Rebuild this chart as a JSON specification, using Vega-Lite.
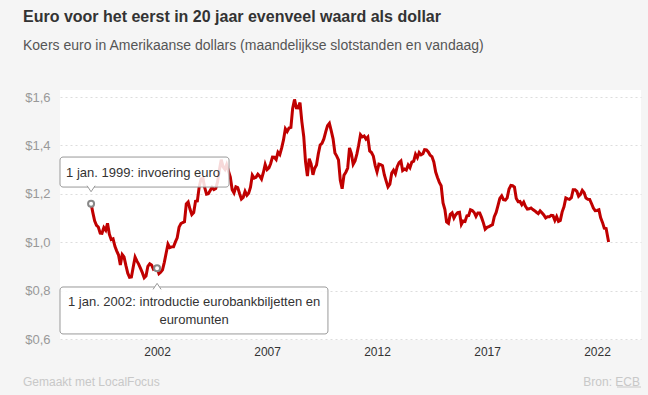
{
  "$schema": "https://vega.github.io/schema/vega-lite/v6.json",
  "width": 581,
  "height": 250,
  "autosize": {"type": "none"},
  "padding": {"left": 60, "top": 90, "right": 7, "bottom": 55},
  "background": "#f5f5f5",
  "config": {"font": "Liberation Sans", "view": {"fill": "white", "stroke": null}},
  "title": {
    "text": "Euro voor het eerst in 20 jaar evenveel waard als dollar",
    "subtitle": "Koers euro in Amerikaanse dollars (maandelijkse slotstanden en vandaag)",
    "anchor": "start",
    "frame": "group",
    "dx": -37,
    "offset": 37,
    "font": "Liberation Sans",
    "fontSize": 16,
    "fontWeight": "bold",
    "color": "#333",
    "subtitleFont": "Liberation Sans",
    "subtitleFontSize": 14,
    "subtitleColor": "#555",
    "subtitlePadding": 14.5
  },
  "datasets": {
    "koers": [
      {"date": "1999-01", "usd": 1.1591}, {"date": "1999-02", "usd": 1.1203}, {"date": "1999-03", "usd": 1.0886}, {"date": "1999-04", "usd": 1.0701}, {"date": "1999-05", "usd": 1.0630}, {"date": "1999-06", "usd": 1.0377}, {"date": "1999-07", "usd": 1.0369}, {"date": "1999-08", "usd": 1.0605}, {"date": "1999-09", "usd": 1.0497}, {"date": "1999-10", "usd": 1.0780}, {"date": "1999-11", "usd": 1.0327}, {"date": "1999-12", "usd": 1.0109},
      {"date": "2000-01", "usd": 1.0141}, {"date": "2000-02", "usd": 0.9834}, {"date": "2000-03", "usd": 0.9643}, {"date": "2000-04", "usd": 0.9470}, {"date": "2000-05", "usd": 0.9059}, {"date": "2000-06", "usd": 0.9492}, {"date": "2000-07", "usd": 0.9397}, {"date": "2000-08", "usd": 0.9041}, {"date": "2000-09", "usd": 0.8721}, {"date": "2000-10", "usd": 0.8552}, {"date": "2000-11", "usd": 0.8564}, {"date": "2000-12", "usd": 0.8973},
      {"date": "2001-01", "usd": 0.9383}, {"date": "2001-02", "usd": 0.9217}, {"date": "2001-03", "usd": 0.9095}, {"date": "2001-04", "usd": 0.8920}, {"date": "2001-05", "usd": 0.8742}, {"date": "2001-06", "usd": 0.8532}, {"date": "2001-07", "usd": 0.8607}, {"date": "2001-08", "usd": 0.9005}, {"date": "2001-09", "usd": 0.9111}, {"date": "2001-10", "usd": 0.9059}, {"date": "2001-11", "usd": 0.8883}, {"date": "2001-12", "usd": 0.8924},
      {"date": "2002-01", "usd": 0.8920}, {"date": "2002-02", "usd": 0.8700}, {"date": "2002-03", "usd": 0.8758}, {"date": "2002-04", "usd": 0.8858}, {"date": "2002-05", "usd": 0.9170}, {"date": "2002-06", "usd": 0.9554}, {"date": "2002-07", "usd": 0.9922}, {"date": "2002-08", "usd": 0.9778}, {"date": "2002-09", "usd": 0.9808}, {"date": "2002-10", "usd": 0.9811}, {"date": "2002-11", "usd": 1.0014}, {"date": "2002-12", "usd": 1.0183},
      {"date": "2003-01", "usd": 1.0622}, {"date": "2003-02", "usd": 1.0773}, {"date": "2003-03", "usd": 1.0807}, {"date": "2003-04", "usd": 1.0848}, {"date": "2003-05", "usd": 1.1582}, {"date": "2003-06", "usd": 1.1663}, {"date": "2003-07", "usd": 1.1372}, {"date": "2003-08", "usd": 1.1139}, {"date": "2003-09", "usd": 1.1222}, {"date": "2003-10", "usd": 1.1692}, {"date": "2003-11", "usd": 1.1702}, {"date": "2003-12", "usd": 1.2286},
      {"date": "2004-01", "usd": 1.2613}, {"date": "2004-02", "usd": 1.2646}, {"date": "2004-03", "usd": 1.2262}, {"date": "2004-04", "usd": 1.1985}, {"date": "2004-05", "usd": 1.2007}, {"date": "2004-06", "usd": 1.2138}, {"date": "2004-07", "usd": 1.2266}, {"date": "2004-08", "usd": 1.2176}, {"date": "2004-09", "usd": 1.2218}, {"date": "2004-10", "usd": 1.2490}, {"date": "2004-11", "usd": 1.2991}, {"date": "2004-12", "usd": 1.3408},
      {"date": "2005-01", "usd": 1.3119}, {"date": "2005-02", "usd": 1.3014}, {"date": "2005-03", "usd": 1.3201}, {"date": "2005-04", "usd": 1.2938}, {"date": "2005-05", "usd": 1.2694}, {"date": "2005-06", "usd": 1.2165}, {"date": "2005-07", "usd": 1.2037}, {"date": "2005-08", "usd": 1.2292}, {"date": "2005-09", "usd": 1.2256}, {"date": "2005-10", "usd": 1.2015}, {"date": "2005-11", "usd": 1.1786}, {"date": "2005-12", "usd": 1.1856},
      {"date": "2006-01", "usd": 1.2103}, {"date": "2006-02", "usd": 1.1938}, {"date": "2006-03", "usd": 1.2020}, {"date": "2006-04", "usd": 1.2271}, {"date": "2006-05", "usd": 1.2770}, {"date": "2006-06", "usd": 1.2650}, {"date": "2006-07", "usd": 1.2684}, {"date": "2006-08", "usd": 1.2811}, {"date": "2006-09", "usd": 1.2727}, {"date": "2006-10", "usd": 1.2611}, {"date": "2006-11", "usd": 1.2881}, {"date": "2006-12", "usd": 1.3213},
      {"date": "2007-01", "usd": 1.2999}, {"date": "2007-02", "usd": 1.3074}, {"date": "2007-03", "usd": 1.3242}, {"date": "2007-04", "usd": 1.3516}, {"date": "2007-05", "usd": 1.3511}, {"date": "2007-06", "usd": 1.3419}, {"date": "2007-07", "usd": 1.3716}, {"date": "2007-08", "usd": 1.3622}, {"date": "2007-09", "usd": 1.3896}, {"date": "2007-10", "usd": 1.4227}, {"date": "2007-11", "usd": 1.4684}, {"date": "2007-12", "usd": 1.4570},
      {"date": "2008-01", "usd": 1.4718}, {"date": "2008-02", "usd": 1.4748}, {"date": "2008-03", "usd": 1.5527}, {"date": "2008-04", "usd": 1.5900}, {"date": "2008-05", "usd": 1.5557}, {"date": "2008-06", "usd": 1.5553}, {"date": "2008-07", "usd": 1.5770}, {"date": "2008-08", "usd": 1.4975}, {"date": "2008-09", "usd": 1.4370}, {"date": "2008-10", "usd": 1.3322}, {"date": "2008-11", "usd": 1.2732}, {"date": "2008-12", "usd": 1.3449},
      {"date": "2009-01", "usd": 1.3239}, {"date": "2009-02", "usd": 1.2785}, {"date": "2009-03", "usd": 1.3050}, {"date": "2009-04", "usd": 1.3190}, {"date": "2009-05", "usd": 1.3650}, {"date": "2009-06", "usd": 1.4016}, {"date": "2009-07", "usd": 1.4088}, {"date": "2009-08", "usd": 1.4268}, {"date": "2009-09", "usd": 1.4562}, {"date": "2009-10", "usd": 1.4816}, {"date": "2009-11", "usd": 1.4914}, {"date": "2009-12", "usd": 1.4614},
      {"date": "2010-01", "usd": 1.4272}, {"date": "2010-02", "usd": 1.3686}, {"date": "2010-03", "usd": 1.3569}, {"date": "2010-04", "usd": 1.3406}, {"date": "2010-05", "usd": 1.2565}, {"date": "2010-06", "usd": 1.2209}, {"date": "2010-07", "usd": 1.2770}, {"date": "2010-08", "usd": 1.2894}, {"date": "2010-09", "usd": 1.3067}, {"date": "2010-10", "usd": 1.3898}, {"date": "2010-11", "usd": 1.3661}, {"date": "2010-12", "usd": 1.3220},
      {"date": "2011-01", "usd": 1.3360}, {"date": "2011-02", "usd": 1.3649}, {"date": "2011-03", "usd": 1.3999}, {"date": "2011-04", "usd": 1.4442}, {"date": "2011-05", "usd": 1.4349}, {"date": "2011-06", "usd": 1.4388}, {"date": "2011-07", "usd": 1.4264}, {"date": "2011-08", "usd": 1.4343}, {"date": "2011-09", "usd": 1.3770}, {"date": "2011-10", "usd": 1.3706}, {"date": "2011-11", "usd": 1.3556}, {"date": "2011-12", "usd": 1.3179},
      {"date": "2012-01", "usd": 1.2905}, {"date": "2012-02", "usd": 1.3224}, {"date": "2012-03", "usd": 1.3201}, {"date": "2012-04", "usd": 1.3162}, {"date": "2012-05", "usd": 1.2789}, {"date": "2012-06", "usd": 1.2526}, {"date": "2012-07", "usd": 1.2288}, {"date": "2012-08", "usd": 1.2400}, {"date": "2012-09", "usd": 1.2856}, {"date": "2012-10", "usd": 1.2974}, {"date": "2012-11", "usd": 1.2828}, {"date": "2012-12", "usd": 1.3119},
      {"date": "2013-01", "usd": 1.3288}, {"date": "2013-02", "usd": 1.3359}, {"date": "2013-03", "usd": 1.2964}, {"date": "2013-04", "usd": 1.3026}, {"date": "2013-05", "usd": 1.2982}, {"date": "2013-06", "usd": 1.3189}, {"date": "2013-07", "usd": 1.3080}, {"date": "2013-08", "usd": 1.3310}, {"date": "2013-09", "usd": 1.3348}, {"date": "2013-10", "usd": 1.3635}, {"date": "2013-11", "usd": 1.3493}, {"date": "2013-12", "usd": 1.3704},
      {"date": "2014-01", "usd": 1.3610}, {"date": "2014-02", "usd": 1.3659}, {"date": "2014-03", "usd": 1.3823}, {"date": "2014-04", "usd": 1.3813}, {"date": "2014-05", "usd": 1.3732}, {"date": "2014-06", "usd": 1.3592}, {"date": "2014-07", "usd": 1.3539}, {"date": "2014-08", "usd": 1.3316}, {"date": "2014-09", "usd": 1.2901}, {"date": "2014-10", "usd": 1.2673}, {"date": "2014-11", "usd": 1.2472}, {"date": "2014-12", "usd": 1.2331},
      {"date": "2015-01", "usd": 1.1621}, {"date": "2015-02", "usd": 1.1350}, {"date": "2015-03", "usd": 1.0838}, {"date": "2015-04", "usd": 1.0779}, {"date": "2015-05", "usd": 1.1150}, {"date": "2015-06", "usd": 1.1213}, {"date": "2015-07", "usd": 1.0996}, {"date": "2015-08", "usd": 1.1139}, {"date": "2015-09", "usd": 1.1221}, {"date": "2015-10", "usd": 1.1235}, {"date": "2015-11", "usd": 1.0736}, {"date": "2015-12", "usd": 1.0877},
      {"date": "2016-01", "usd": 1.0860}, {"date": "2016-02", "usd": 1.1093}, {"date": "2016-03", "usd": 1.1100}, {"date": "2016-04", "usd": 1.1339}, {"date": "2016-05", "usd": 1.1311}, {"date": "2016-06", "usd": 1.1229}, {"date": "2016-07", "usd": 1.1069}, {"date": "2016-08", "usd": 1.1212}, {"date": "2016-09", "usd": 1.1212}, {"date": "2016-10", "usd": 1.1026}, {"date": "2016-11", "usd": 1.0799}, {"date": "2016-12", "usd": 1.0541},
      {"date": "2017-01", "usd": 1.0614}, {"date": "2017-02", "usd": 1.0643}, {"date": "2017-03", "usd": 1.0685}, {"date": "2017-04", "usd": 1.0723}, {"date": "2017-05", "usd": 1.1058}, {"date": "2017-06", "usd": 1.1229}, {"date": "2017-07", "usd": 1.1511}, {"date": "2017-08", "usd": 1.1807}, {"date": "2017-09", "usd": 1.1915}, {"date": "2017-10", "usd": 1.1756}, {"date": "2017-11", "usd": 1.1738}, {"date": "2017-12", "usd": 1.1836},
      {"date": "2018-01", "usd": 1.2200}, {"date": "2018-02", "usd": 1.2348}, {"date": "2018-03", "usd": 1.2336}, {"date": "2018-04", "usd": 1.2276}, {"date": "2018-05", "usd": 1.1812}, {"date": "2018-06", "usd": 1.1678}, {"date": "2018-07", "usd": 1.1686}, {"date": "2018-08", "usd": 1.1549}, {"date": "2018-09", "usd": 1.1659}, {"date": "2018-10", "usd": 1.1484}, {"date": "2018-11", "usd": 1.1367}, {"date": "2018-12", "usd": 1.1380},
      {"date": "2019-01", "usd": 1.1416}, {"date": "2019-02", "usd": 1.1351}, {"date": "2019-03", "usd": 1.1302}, {"date": "2019-04", "usd": 1.1238}, {"date": "2019-05", "usd": 1.1185}, {"date": "2019-06", "usd": 1.1293}, {"date": "2019-07", "usd": 1.1218}, {"date": "2019-08", "usd": 1.1126}, {"date": "2019-09", "usd": 1.1004}, {"date": "2019-10", "usd": 1.1053}, {"date": "2019-11", "usd": 1.1051}, {"date": "2019-12", "usd": 1.1113},
      {"date": "2020-01", "usd": 1.1100}, {"date": "2020-02", "usd": 1.0905}, {"date": "2020-03", "usd": 1.1063}, {"date": "2020-04", "usd": 1.0862}, {"date": "2020-05", "usd": 1.0902}, {"date": "2020-06", "usd": 1.1255}, {"date": "2020-07", "usd": 1.1463}, {"date": "2020-08", "usd": 1.1828}, {"date": "2020-09", "usd": 1.1792}, {"date": "2020-10", "usd": 1.1775}, {"date": "2020-11", "usd": 1.1838}, {"date": "2020-12", "usd": 1.2170},
      {"date": "2021-01", "usd": 1.2171}, {"date": "2021-02", "usd": 1.2098}, {"date": "2021-03", "usd": 1.1899}, {"date": "2021-04", "usd": 1.1979}, {"date": "2021-05", "usd": 1.2146}, {"date": "2021-06", "usd": 1.2047}, {"date": "2021-07", "usd": 1.1822}, {"date": "2021-08", "usd": 1.1772}, {"date": "2021-09", "usd": 1.1770}, {"date": "2021-10", "usd": 1.1601}, {"date": "2021-11", "usd": 1.1414}, {"date": "2021-12", "usd": 1.1304},
      {"date": "2022-01", "usd": 1.1314}, {"date": "2022-02", "usd": 1.1342}, {"date": "2022-03", "usd": 1.1017}, {"date": "2022-04", "usd": 1.0819}, {"date": "2022-05", "usd": 1.0577}, {"date": "2022-06", "usd": 1.0566}, {"date": "2022-07-12", "usd": 1.0005}
    ],
    "invoering": [
      {"date": "1999-01", "usd": 1.1591, "label": "1 jan. 1999: invoering euro"}
    ],
    "biljetten": [
      {"date": "2002-01", "usd": 0.8920, "label": "1 jan. 2002: introductie eurobankbiljetten en\neuromunten"}
    ],
    "footer": [
      {"left": "Gemaakt met LocalFocus", "right": "Bron: ECB"}
    ]
  },
  "layer": [
    {
      "data": {"name": "koers"},
      "mark": {"type": "line", "color": "#c00000", "strokeWidth": 3},
      "encoding": {
        "x": {
          "field": "date",
          "type": "temporal",
          "scale": {"domain": [{"year": 1997, "month": 8, "date": 3}, {"year": 2024, "month": 1, "date": 1}]},
          "axis": {
            "title": null,
            "values": [{"year": 2002}, {"year": 2007}, {"year": 2012}, {"year": 2017}, {"year": 2022}],
            "format": "%Y",
            "grid": false,
            "domain": false,
            "ticks": false,
            "labelColor": "#333",
            "labelFontSize": 12,
            "labelPadding": 6
          }
        },
        "y": {
          "field": "usd",
          "type": "quantitative",
          "scale": {"domain": [0.596, 1.629], "nice": false, "zero": false},
          "axis": {
            "title": null,
            "values": [0.6, 0.8, 1.0, 1.2, 1.4, 1.6],
            "labelExpr": "'$' + replace(format(datum.value, '.1f'), '.', ',')",
            "grid": true,
            "gridColor": "#dddddd",
            "gridDash": [2, 3],
            "gridWidth": 1,
            "domain": false,
            "ticks": false,
            "labelColor": "#999",
            "labelFontSize": 13,
            "labelPadding": 10
          }
        }
      }
    },
    {
      "data": {"name": "invoering"},
      "mark": {"type": "rect", "fill": "white", "fillOpacity": 0.85, "stroke": "#999", "strokeWidth": 1, "cornerRadius": 3},
      "encoding": {
        "x": {"datum": {"year": 1997, "month": 8, "date": 3}, "type": "temporal"},
        "x2": {"datum": {"year": 2005, "month": 4, "date": 10}},
        "y": {"datum": 1.352, "type": "quantitative"},
        "y2": {"datum": 1.228}
      }
    },
    {
      "data": {"name": "biljetten"},
      "mark": {"type": "rect", "fill": "white", "fillOpacity": 0.85, "stroke": "#999", "strokeWidth": 1, "cornerRadius": 3},
      "encoding": {
        "x": {"datum": {"year": 1997, "month": 8, "date": 3}, "type": "temporal"},
        "x2": {"datum": {"year": 2009, "month": 10, "date": 8}},
        "y": {"datum": 0.815, "type": "quantitative"},
        "y2": {"datum": 0.621}
      }
    },
    {
      "data": {"name": "invoering"},
      "mark": {"type": "point", "shape": "M-1,-1.5L0,0L1,-1.5", "size": 64, "filled": true, "fill": "white", "fillOpacity": 1, "stroke": "#999", "strokeWidth": 1, "opacity": 1, "yOffset": -12},
      "encoding": {
        "x": {"field": "date", "type": "temporal"},
        "y": {"field": "usd", "type": "quantitative"}
      }
    },
    {
      "data": {"name": "biljetten"},
      "mark": {"type": "point", "shape": "M-1,1.5L0,0L1,1.5", "size": 64, "filled": true, "fill": "white", "fillOpacity": 1, "stroke": "#999", "strokeWidth": 1, "opacity": 1, "yOffset": 15},
      "encoding": {
        "x": {"field": "date", "type": "temporal"},
        "y": {"field": "usd", "type": "quantitative"}
      }
    },
    {
      "data": {"name": "invoering"},
      "mark": {"type": "point", "shape": "circle", "size": 36, "filled": true, "fill": "white", "stroke": "#888", "strokeWidth": 2, "opacity": 1},
      "encoding": {
        "x": {"field": "date", "type": "temporal"},
        "y": {"field": "usd", "type": "quantitative"}
      }
    },
    {
      "data": {"name": "biljetten"},
      "mark": {"type": "point", "shape": "circle", "size": 36, "filled": true, "fill": "white", "stroke": "#888", "strokeWidth": 2, "opacity": 1},
      "encoding": {
        "x": {"field": "date", "type": "temporal"},
        "y": {"field": "usd", "type": "quantitative"}
      }
    },
    {
      "data": {"name": "invoering"},
      "mark": {"type": "text", "align": "center", "baseline": "middle", "dx": 52, "dy": -31, "fontSize": 13, "color": "#333"},
      "encoding": {
        "x": {"field": "date", "type": "temporal"},
        "y": {"field": "usd", "type": "quantitative"},
        "text": {"field": "label"}
      }
    },
    {
      "data": {"name": "biljetten"},
      "mark": {"type": "text", "align": "center", "baseline": "middle", "dx": 37, "dy": 34, "fontSize": 13, "color": "#333", "lineBreak": "\n", "lineHeight": 18},
      "encoding": {
        "x": {"field": "date", "type": "temporal"},
        "y": {"field": "usd", "type": "quantitative"},
        "text": {"field": "label"}
      }
    },
    {
      "data": {"name": "footer"},
      "mark": {"type": "text", "align": "left", "baseline": "middle", "dx": -37, "dy": 42, "fontSize": 12, "color": "#c8c8c8"},
      "encoding": {
        "x": {"datum": {"year": 1997, "month": 8, "date": 3}, "type": "temporal"},
        "y": {"datum": 0.596, "type": "quantitative"},
        "text": {"field": "left"}
      }
    },
    {
      "data": {"name": "footer"},
      "mark": {"type": "text", "align": "right", "baseline": "middle", "dx": -1, "dy": 42, "fontSize": 12, "color": "#c8c8c8"},
      "encoding": {
        "x": {"datum": {"year": 2024, "month": 1, "date": 1}, "type": "temporal"},
        "y": {"datum": 0.596, "type": "quantitative"},
        "text": {"field": "right"}
      }
    },
    {
      "data": {"name": "footer"},
      "mark": {"type": "rule", "color": "#c8c8c8", "strokeWidth": 1, "yOffset": 47},
      "encoding": {
        "x": {"datum": {"year": 2022, "month": 11, "date": 28}, "type": "temporal"},
        "x2": {"datum": {"year": 2024, "month": 1, "date": 1}},
        "y": {"datum": 0.596, "type": "quantitative"}
      }
    }
  ]
}
